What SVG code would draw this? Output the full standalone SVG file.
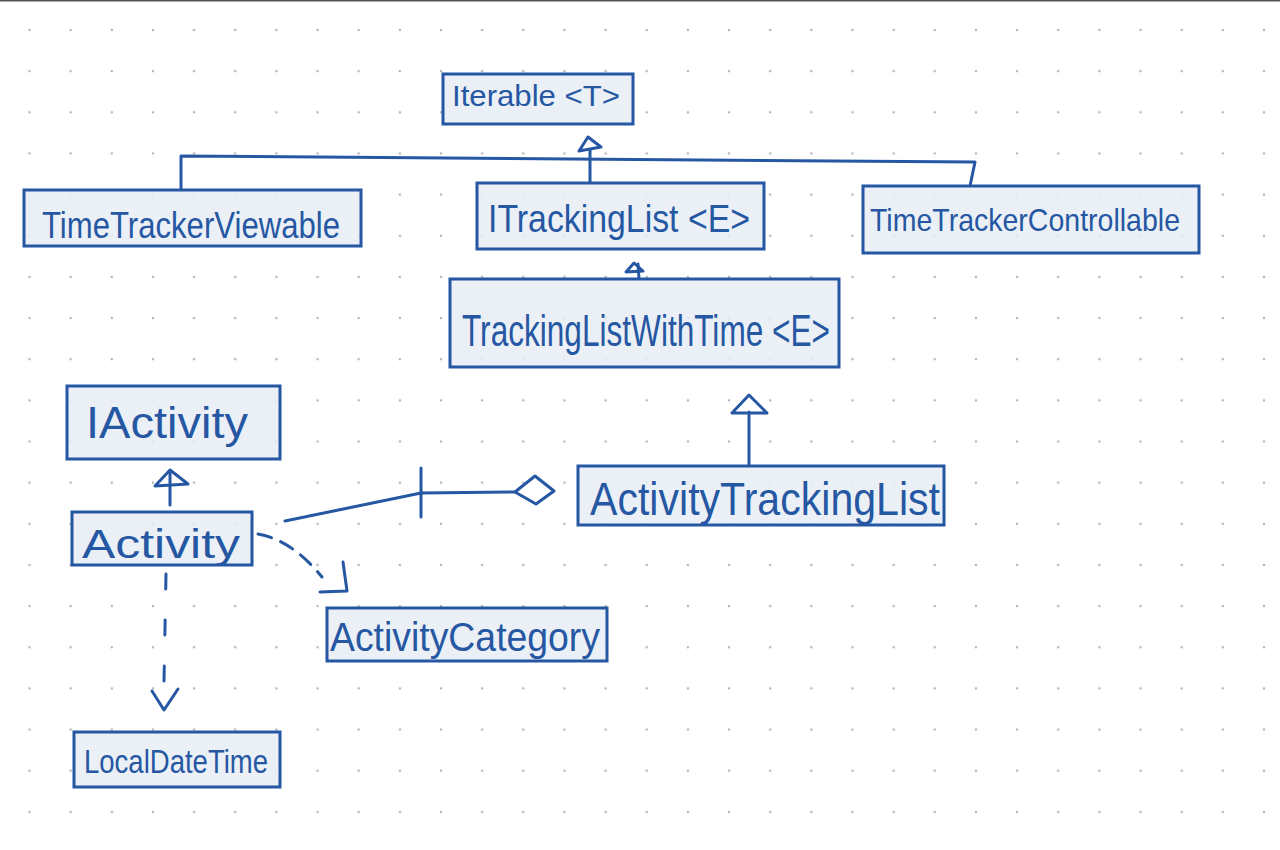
<svg xmlns="http://www.w3.org/2000/svg" width="1280" height="850" viewBox="0 0 1280 850">
  <defs>
    <pattern id="dots" x="29.5" y="30" width="41.15" height="41.15" patternUnits="userSpaceOnUse">
      <circle cx="0" cy="0" r="1.3" fill="#b5b5b5"/>
      <circle cx="41.15" cy="0" r="1.3" fill="#b5b5b5"/>
      <circle cx="0" cy="41.15" r="1.3" fill="#b5b5b5"/>
      <circle cx="41.15" cy="41.15" r="1.3" fill="#b5b5b5"/>
    </pattern>
    <style>
      .box { fill: #e7edf5; fill-opacity: 0.85; stroke: #2557a3; stroke-width: 3; }
      .lbl { font-family: "Liberation Sans", Arial, sans-serif; fill: #2557a3; font-weight: normal; }
      .ln { fill: none; stroke: #2557a3; stroke-width: 3; stroke-linecap: round; stroke-linejoin: round; }
      .dash { fill: none; stroke: #2557a3; stroke-width: 3; stroke-linecap: round; }
    </style>
  </defs>
  <rect x="0" y="0" width="1280" height="850" fill="#ffffff"/>
  <rect x="0" y="0" width="1280" height="850" fill="url(#dots)"/>
  <line x1="0" y1="0.5" x2="1280" y2="0.5" stroke="#555" stroke-width="2"/>

  <g id="connectors">
    <!-- ITrackingList / Viewable / Controllable -> Iterable -->
    <polyline class="ln" points="181,190 181,156 975,162 970,186"/>
    <line class="ln" x1="590" y1="150" x2="590" y2="183"/>
    <polygon class="ln" points="588,137 579,151 601,147"/>
    <!-- TrackingListWithTime -> ITrackingList -->
    <line class="ln" x1="638" y1="264" x2="639" y2="279"/>
    <polygon class="ln" points="634,263 626,272 643,271"/>
    <!-- ActivityTrackingList -> TrackingListWithTime -->
    <line class="ln" x1="749" y1="412" x2="749" y2="466"/>
    <polygon class="ln" points="749,395 732,413 767,413"/>
    <!-- Activity -> IActivity -->
    <line class="ln" x1="170" y1="472" x2="170" y2="505"/>
    <polygon class="ln" points="170,470 155,486 188,484"/>
    <!-- Activity - ActivityTrackingList aggregation -->
    <polyline class="ln" points="285,521 421,493 515,492"/>
    <line class="ln" x1="421" y1="468" x2="421" y2="517"/>
    <polygon class="ln" points="515,492 535,476 554,491 536,504"/>
    <!-- Activity -> ActivityCategory dependency -->
    <path class="dash" d="M258,534 Q292,540 322,577" stroke-dasharray="14 10"/>
    <polyline class="ln" points="343,562 347,591 320,592"/>
    <!-- Activity -> LocalDateTime dependency -->
    <line class="dash" x1="166" y1="574" x2="164" y2="682" stroke-dasharray="15 31"/>
    <polyline class="ln" points="152,691 164,710 178,689"/>
  </g>

  <g id="iterable">
    <rect class="box" x="443" y="74" width="190" height="50"/>
    <text class="lbl" x="452" y="106" font-size="30" textLength="168" lengthAdjust="spacingAndGlyphs">Iterable &lt;T&gt;</text>
  </g>
  <g id="timeTrackerViewable">
    <rect class="box" x="24" y="190" width="337" height="56"/>
    <text class="lbl" x="42" y="238" font-size="36" textLength="298" lengthAdjust="spacingAndGlyphs">TimeTrackerViewable</text>
  </g>
  <g id="iTrackingList">
    <rect class="box" x="477" y="183" width="287" height="66"/>
    <text class="lbl" x="488" y="232" font-size="38" textLength="262" lengthAdjust="spacingAndGlyphs">ITrackingList &lt;E&gt;</text>
  </g>
  <g id="timeTrackerControllable">
    <rect class="box" x="863" y="186" width="336" height="67"/>
    <text class="lbl" x="870" y="231" font-size="32" textLength="310" lengthAdjust="spacingAndGlyphs">TimeTrackerControllable</text>
  </g>
  <g id="trackingListWithTime">
    <rect class="box" x="450" y="279" width="389" height="88"/>
    <text class="lbl" x="462" y="346" font-size="44" textLength="368" lengthAdjust="spacingAndGlyphs">TrackingListWithTime &lt;E&gt;</text>
  </g>
  <g id="iActivity">
    <rect class="box" x="67" y="386" width="213" height="73"/>
    <text class="lbl" x="86" y="438" font-size="44" textLength="162" lengthAdjust="spacingAndGlyphs">IActivity</text>
  </g>
  <g id="activity">
    <rect class="box" x="72" y="512" width="180" height="53"/>
    <text class="lbl" x="82" y="558" font-size="40" textLength="158" lengthAdjust="spacingAndGlyphs">Activity</text>
  </g>
  <g id="activityTrackingList">
    <rect class="box" x="578" y="466" width="366" height="59"/>
    <text class="lbl" x="590" y="515" font-size="46" textLength="350" lengthAdjust="spacingAndGlyphs">ActivityTrackingList</text>
  </g>
  <g id="activityCategory">
    <rect class="box" x="327" y="608" width="280" height="53"/>
    <text class="lbl" x="330" y="651" font-size="40" textLength="270" lengthAdjust="spacingAndGlyphs">ActivityCategory</text>
  </g>
  <g id="localDateTime">
    <rect class="box" x="74" y="732" width="206" height="55"/>
    <text class="lbl" x="84" y="773" font-size="34" textLength="184" lengthAdjust="spacingAndGlyphs">LocalDateTime</text>
  </g>
</svg>
